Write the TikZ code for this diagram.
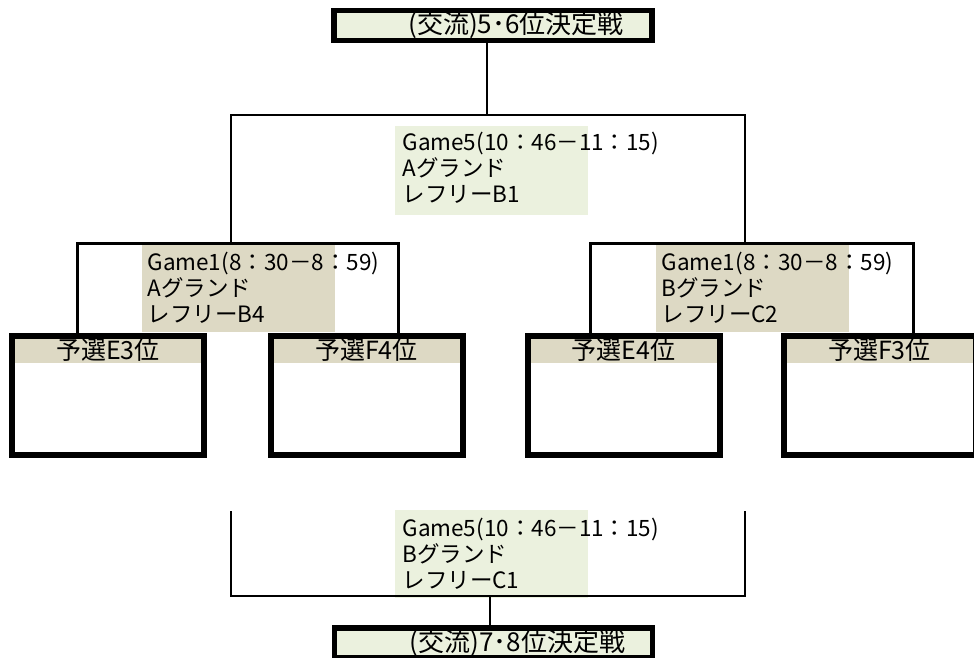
\documentclass[tikz,border=0pt]{standalone}
\usepackage{fontspec}
\setmainfont{Noto Sans CJK JP}
\usetikzlibrary{positioning}
\definecolor{paleolive}{HTML}{EBF1DE}
\definecolor{paletan}{HTML}{DDD9C4}

\begin{document}
\begin{tikzpicture}[
    x=1pt, y=-1pt,
    titlebox/.style={
        draw,
        line width=5.5pt,
        fill=paleolive,
        minimum width=318pt,
        minimum height=30pt,
        inner sep=0pt,
        font=\fontsize{26}{28}\selectfont
    },
    teamhead/.style={
        fill=paletan,
        minimum width=187pt,
        minimum height=27pt,
        inner sep=0pt,
        font=\fontsize{25}{28}\selectfont
    },
    teambox/.style={
        draw,
        line width=6pt,
        minimum width=192pt,
        minimum height=119pt,
        inner sep=0pt
    },
    gamefill/.style={
        inner sep=0pt,
        minimum width=193pt,
        minimum height=88pt
    },
    gametext/.style={
        anchor=north west,
        align=left,
        inner sep=0pt,
        font=\fontsize{22.5}{26}\selectfont
    },
    thinline/.style={line width=1.5pt},
    subline/.style={line width=3pt}
]
\useasboundingbox (0,0) rectangle (974,658);

% game labels
\node[gamefill, fill=paleolive] (g5a) at (491,170.5) {};
\node[gamefill, fill=paletan] (g1a) at (238,288) {};
\node[gamefill, fill=paletan] (g1b) at (752,288) {};
\node[gamefill, fill=paleolive] (g5b) at (491,554) {};

\node[gametext] (g5atext) at ([xshift=8pt,yshift=-6pt]g5a.north west) {Game5(10：46－11：15)\\Aグランド\\レフリーB1};
\node[gametext] (g1atext) at ([xshift=6pt,yshift=-8pt]g1a.north west) {Game1(8：30－8：59)\\Aグランド\\レフリーB4};
\node[gametext] (g1btext) at ([xshift=6pt,yshift=-8pt]g1b.north west) {Game1(8：30－8：59)\\Bグランド\\レフリーC2};
\node[gametext] (g5btext) at ([xshift=8pt,yshift=-8pt]g5b.north west) {Game5(10：46－11：15)\\Bグランド\\レフリーC1};

% title boxes
\node[titlebox] (top) at (493,25.5) {\hspace*{46pt}(交流)5･6位決定戦};
\node[titlebox] (bot) at (493.5,643) {\hspace*{48pt}(交流)7･8位決定戦};

% teams
\node[teamhead] (e3h) at (108,349.5) {予選E3位};
\node[teamhead] (f4h) at (366.5,349.5) {予選F4位};
\node[teamhead] (e4h) at (623.5,349.5) {予選E4位};
\node[teamhead] (f3h) at (879.5,349.5) {予選F3位};
\node[teambox, anchor=north] (e3) at ([yshift=3pt]e3h.north) {};
\node[teambox, anchor=north] (f4) at ([yshift=3pt]f4h.north) {};
\node[teambox, anchor=north] (e4) at ([yshift=3pt]e4h.north) {};
\node[teambox, anchor=north] (f3) at ([yshift=3pt]f3h.north) {};

% bracket points
\coordinate (g5top) at (487,115);
\coordinate (g1m) at (231,243);
\coordinate (g2m) at (745,243);
\coordinate (g1l) at (77,243);
\coordinate (g1r) at (398,243);
\coordinate (g2l) at (590,243);
\coordinate (g2r) at (913,243);
\coordinate (b5l) at (231,511);
\coordinate (b5r) at (745,511);
\coordinate (b5m) at (490,596);

% upper bracket
\draw[thinline] (top.south -| g5top) -- (g5top);
\draw[thinline] (g1m) |- (g5top) -| (g2m);
\draw[subline] (e3.north -| g1l) -- (g1l) -- (g1r) -- (f4.north -| g1r);
\draw[subline] (e4.north -| g2l) -- (g2l) -- (g2r) -- (f3.north -| g2r);

% lower bracket
\draw[thinline] (b5l) |- (b5m) -| (b5r);
\draw[thinline] (b5m) -- (bot.north -| b5m);
\end{tikzpicture}
\end{document}
